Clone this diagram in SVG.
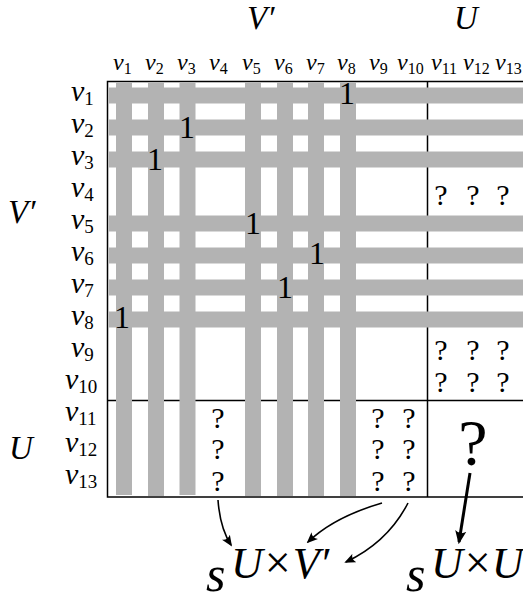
<svg xmlns="http://www.w3.org/2000/svg" width="523" height="601" viewBox="0 0 523 601">
<style>
text{font-family:"Liberation Serif","DejaVu Serif",serif;fill:#000}
.mi{font-style:italic}
.big{font-size:33px;font-style:italic}
.col{font-size:24px}
.row{font-size:30px}
.sub{font-size:16px;font-style:normal}
.rsub{font-size:19px;font-style:normal}
.one{font-size:32px;text-anchor:middle}
.q{font-size:30px;text-anchor:middle}
.bar{fill:#b3b3b3}
.ln{stroke:#000;stroke-width:1.5;fill:none}
.arr{stroke:#000;stroke-width:1.6;fill:none;marker-end:url(#ah)}
.s{font-size:50px;font-style:italic}
.sup{font-size:44px;font-style:italic}
.x{font-size:46px}
</style>
<defs>
<marker id="ah" viewBox="0 0 12 10" refX="10" refY="5" markerWidth="7" markerHeight="6" orient="auto" markerUnits="strokeWidth">
<path d="M0,0 Q4,5 0,10 L12,5 Z" fill="#000"/>
</marker>
<marker id="ah2" viewBox="0 0 12 10" refX="10" refY="5" markerWidth="4.5" markerHeight="4" orient="auto" markerUnits="strokeWidth">
<path d="M0,0 Q4,5 0,10 L12,5 Z" fill="#000"/>
</marker>
</defs>

<g id="set-labels">
<text class="big" x="247" y="29">V′</text>
<text class="big" x="454" y="29">U</text>
<text class="big" x="8" y="223">V′</text>
<text class="big" x="9" y="459">U</text>
</g>

<g id="column-labels" class="col">
<text x="113" y="70"><tspan class="mi">v</tspan><tspan class="sub" dy="4">1</tspan></text>
<text x="145" y="70"><tspan class="mi">v</tspan><tspan class="sub" dy="4">2</tspan></text>
<text x="177" y="70"><tspan class="mi">v</tspan><tspan class="sub" dy="4">3</tspan></text>
<text x="209" y="70"><tspan class="mi">v</tspan><tspan class="sub" dy="4">4</tspan></text>
<text x="242" y="70"><tspan class="mi">v</tspan><tspan class="sub" dy="4">5</tspan></text>
<text x="274" y="70"><tspan class="mi">v</tspan><tspan class="sub" dy="4">6</tspan></text>
<text x="306" y="70"><tspan class="mi">v</tspan><tspan class="sub" dy="4">7</tspan></text>
<text x="337" y="70"><tspan class="mi">v</tspan><tspan class="sub" dy="4">8</tspan></text>
<text x="369" y="70"><tspan class="mi">v</tspan><tspan class="sub" dy="4">9</tspan></text>
<text x="397" y="70"><tspan class="mi">v</tspan><tspan class="sub" dy="4">10</tspan></text>
<text x="431" y="70"><tspan class="mi">v</tspan><tspan class="sub" dy="4">11</tspan></text>
<text x="463" y="70"><tspan class="mi">v</tspan><tspan class="sub" dy="4">12</tspan></text>
<text x="495" y="70"><tspan class="mi">v</tspan><tspan class="sub" dy="4">13</tspan></text>
</g>

<g id="row-labels" class="row">
<text x="71" y="101"><tspan class="mi">v</tspan><tspan class="rsub" dy="4">1</tspan></text>
<text x="71" y="133"><tspan class="mi">v</tspan><tspan class="rsub" dy="4">2</tspan></text>
<text x="71" y="165"><tspan class="mi">v</tspan><tspan class="rsub" dy="4">3</tspan></text>
<text x="71" y="197"><tspan class="mi">v</tspan><tspan class="rsub" dy="4">4</tspan></text>
<text x="71" y="229"><tspan class="mi">v</tspan><tspan class="rsub" dy="4">5</tspan></text>
<text x="71" y="261"><tspan class="mi">v</tspan><tspan class="rsub" dy="4">6</tspan></text>
<text x="71" y="293"><tspan class="mi">v</tspan><tspan class="rsub" dy="4">7</tspan></text>
<text x="71" y="325"><tspan class="mi">v</tspan><tspan class="rsub" dy="4">8</tspan></text>
<text x="71" y="357"><tspan class="mi">v</tspan><tspan class="rsub" dy="4">9</tspan></text>
<text x="65" y="389"><tspan class="mi">v</tspan><tspan class="rsub" dy="4">10</tspan></text>
<text x="65" y="421"><tspan class="mi">v</tspan><tspan class="rsub" dy="4">11</tspan></text>
<text x="65" y="452"><tspan class="mi">v</tspan><tspan class="rsub" dy="4">12</tspan></text>
<text x="65" y="484"><tspan class="mi">v</tspan><tspan class="rsub" dy="4">13</tspan></text>
</g>

<g id="matrix">
<rect class="ln" x="107.5" y="81.5" width="430" height="415.5"/>
<line class="ln" x1="427.5" y1="81.5" x2="427.5" y2="497"/>
<line class="ln" x1="107.5" y1="400.5" x2="530" y2="400.5"/>
</g>

<g id="bars">
<rect class="bar" x="109" y="87.5" width="420" height="16"/>
<rect class="bar" x="109" y="119.5" width="420" height="16"/>
<rect class="bar" x="109" y="151.5" width="420" height="16"/>
<rect class="bar" x="109" y="215.5" width="420" height="16"/>
<rect class="bar" x="109" y="247.5" width="420" height="16"/>
<rect class="bar" x="109" y="279.5" width="420" height="16"/>
<rect class="bar" x="109" y="311.5" width="420" height="16"/>
<rect class="bar" x="116" y="82.5" width="16" height="412.5"/>
<rect class="bar" x="148" y="82.5" width="16" height="413.5"/>
<rect class="bar" x="179.5" y="82.5" width="16" height="412.5"/>
<rect class="bar" x="245" y="82.5" width="16" height="413.5"/>
<rect class="bar" x="277" y="82.5" width="16" height="413.5"/>
<rect class="bar" x="308" y="82.5" width="16" height="413.5"/>
<rect class="bar" x="340" y="82.5" width="16" height="413.5"/>
</g>

<g id="ones">
<text class="one" x="347" y="104">1</text>
<text class="one" x="187" y="138">1</text>
<text class="one" x="155" y="170">1</text>
<text class="one" x="253" y="234">1</text>
<text class="one" x="317" y="264">1</text>
<text class="one" x="285" y="298">1</text>
<text class="one" x="122" y="328">1</text>
</g>

<g id="unknowns">
<text class="q" x="441" y="205">?</text>
<text class="q" x="473" y="205">?</text>
<text class="q" x="503" y="205">?</text>
<text class="q" x="441" y="360">?</text>
<text class="q" x="473" y="360">?</text>
<text class="q" x="503" y="360">?</text>
<text class="q" x="441" y="392">?</text>
<text class="q" x="473" y="392">?</text>
<text class="q" x="503" y="392">?</text>
<text class="q" x="218" y="428">?</text>
<text class="q" x="218" y="459">?</text>
<text class="q" x="218" y="491">?</text>
<text class="q" x="378" y="428">?</text>
<text class="q" x="378" y="459">?</text>
<text class="q" x="378" y="491">?</text>
<text class="q" x="409" y="428">?</text>
<text class="q" x="409" y="459">?</text>
<text class="q" x="409" y="491">?</text>
<text x="473" y="465" style="font-size:66px;text-anchor:middle">?</text>
</g>

<g id="connectors">
<path class="arr" d="M218,500 Q220,528 231,545"/>
<path class="arr" d="M382,503 Q334,517 308,542"/>
<path class="arr" d="M408,503 Q388,542 346,562"/>
<path class="arr" style="stroke-width:3;marker-end:url(#ah2)" d="M470,473 L459,542"/>
</g>

<g id="result-labels">
<text class="s" x="206" y="591">s</text>
<text x="231" y="578"><tspan class="sup">U</tspan><tspan class="x" dx="2">×</tspan><tspan class="sup" dx="2">V′</tspan></text>
<text class="s" x="406" y="591">s</text>
<text x="431" y="578"><tspan class="sup">U</tspan><tspan class="x" dx="2">×</tspan><tspan class="sup" dx="1">U</tspan></text>
</g>
</svg>
